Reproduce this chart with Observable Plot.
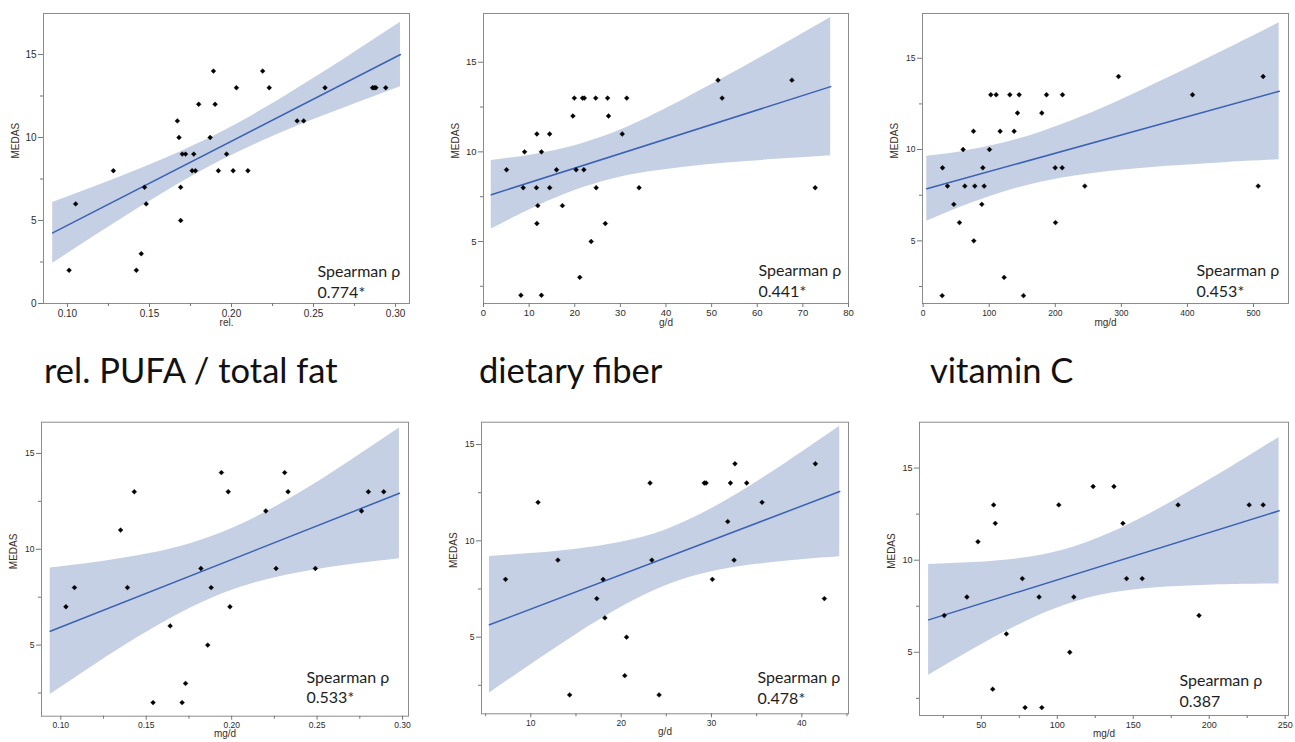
<!DOCTYPE html>
<html><head><meta charset="utf-8">
<script src="https://cdn.jsdelivr.net/npm/d3@7"></script>
<script src="https://cdn.jsdelivr.net/npm/@observablehq/plot@0.6"></script>
<style>
html,body{margin:0;padding:0;background:#fff}
body{width:1295px;height:742px;overflow:hidden;position:relative;font-family:"Liberation Sans",Arial,sans-serif}
.panel{position:absolute}
.panel svg{max-width:none !important;background:transparent !important}
.title{position:absolute;font-family:Lato,"Open Sans",sans-serif;font-size:34.5px;line-height:34.5px;color:#111;white-space:nowrap}
</style></head><body>
<div class="title" style="left:44px;top:353px">rel. PUFA / total fat</div>
<div class="title" style="left:479px;top:353px">dietary fiber</div>
<div class="title" style="left:930px;top:353px">vitamin C</div>
<script>
// ---------- data ----------
// Panel 1: rel. PUFA / total fat
const p1X = [0.101,0.105,0.128,0.142,0.145,0.147,0.148,0.167,0.168,0.169,0.169,0.170,0.172,0.176,0.177,0.178,0.180,0.187,0.189,0.190,0.192,0.197,0.201,0.203,0.210,0.219,0.223,0.240,0.244,0.257,0.286,0.287,0.288,0.294];
const p1Y = [2,6,8,2,3,7,6,11,10,7,5,9,9,8,9,8,12,10,14,12,8,9,8,13,8,14,13,11,11,13,13,13,13,13];
const p1FitX = [0.091, 0.303];
const p1FitY = [4.25, 15.0];
const p1BandX = [0.091,0.117,0.143,0.169,0.195,0.221,0.247,0.273,0.303];
const p1BandLo = [2.42,4.09,5.72,7.27,8.67,9.88,10.96,11.95,13.06];
const p1BandHi = [6.08,7.05,8.05,9.14,10.37,11.80,13.37,15.00,16.94];
const p1XTicks = [0.10,0.15,0.20,0.25,0.30];
const p1XMinor = [0.125,0.175,0.225,0.275];
const p1YTicks = [0,5,10,15];

// Panel 2: dietary fiber
const p2X = [5.05,8.2,8.7,9.0,11.6,11.7,11.7,11.9,12.7,12.7,14.5,14.5,16.0,17.3,19.6,19.9,20.3,21.1,21.7,22.0,22.1,23.6,24.6,24.7,26.7,27.2,27.4,30.4,31.4,34.1,51.4,52.3,67.6,72.7];
const p2Y = [9,2,8,10,8,11,6,7,10,2,11,8,9,7,12,13,9,3,13,9,13,5,13,8,6,13,12,11,13,8,14,13,14,8];
const p2FitX = [1.7, 76.1];
const p2FitY = [7.61, 13.64];
const p2BandX = [1.7,10,18,26,34,44,54,65,76.1];
const p2BandLo = [5.70,6.76,7.65,8.33,8.79,9.14,9.39,9.60,9.79];
const p2BandHi = [9.52,9.80,10.21,10.83,11.67,12.94,14.31,15.88,17.49];
const p2XTicks = [0,10,20,30,40,50,60,70,80];
const p2XMinor = [];

// Panel 3: vitamin C
const p3X = [28.8,29.3,36.8,46.4,55,60.5,63.1,76.2,76.7,78.2,88.8,90.3,92.3,100.4,102.4,110.5,116.5,122.6,131.2,137.7,142.8,145.3,151.9,179.6,186.7,199.8,200.3,210.4,210.9,244.7,295.7,407.7,507.1,514.6];
const p3Y = [2,9,8,7,6,10,8,11,5,8,7,9,8,10,13,13,11,3,13,11,12,13,2,12,13,9,6,9,13,8,14,13,8,14];
const p3FitX = [5.5, 538.9];
const p3FitY = [7.85, 13.19];
const p3BandX = [5.5,60,120,180,240,300,370,450,538.9];
const p3BandLo = [6.07,6.89,7.65,8.22,8.60,8.86,9.08,9.27,9.44];
const p3BandHi = [9.63,9.90,10.34,10.98,11.79,12.73,13.92,15.33,16.94];
const p3XTicks = [0,100,200,300,400,500];
const p3XMinor = [];

// Panel 4 (mg/d)
const p4X = [0.103,0.108,0.135,0.139,0.143,0.154,0.164,0.171,0.173,0.182,0.186,0.188,0.194,0.198,0.199,0.220,0.226,0.231,0.233,0.249,0.276,0.280,0.289];
const p4Y = [7,8,11,8,13,2,6,2,3,9,5,8,14,13,7,12,9,14,13,9,12,13,13];
const p4FitX = [0.0938, 0.2982];
const p4FitY = [5.72, 12.92];
const p4BandX = [0.0938,0.12,0.145,0.17,0.195,0.22,0.245,0.27,0.2982];
const p4BandLo = [2.42,3.98,5.39,6.66,7.69,8.40,8.87,9.21,9.51];
const p4BandHi = [9.02,9.31,9.66,10.15,10.89,11.94,13.22,14.65,16.33];
const p4XTicks = [0.10,0.15,0.20,0.25,0.30];
const p4XMinor = [0.125,0.175,0.225,0.275];

// Panel 5 (g/d)
const p5X = [7.2,10.8,13.0,14.3,17.3,18.0,18.2,20.4,20.6,23.2,23.4,24.2,29.2,29.4,30.1,31.8,32.1,32.5,32.6,33.9,35.6,41.5,42.5];
const p5Y = [8,12,9,2,7,8,6,3,5,13,9,2,13,13,8,11,13,9,14,13,12,14,7];
const p5FitX = [5.42, 44.2];
const p5FitY = [5.64, 12.56];
const p5BandX = [5.42,10,15,20,25,30,35,40,44.2];
const p5BandLo = [2.09,3.57,5.13,6.55,7.68,8.39,8.78,9.02,9.17];
const p5BandHi = [9.19,9.34,9.57,9.93,10.58,11.66,13.05,14.60,15.95];
const p5XTicks = [10,20,30,40];
const p5XMinor = [5,15,25,35,45];

// Panel 6 (mg/d)
const p6X = [25.6,40.5,47.8,57.5,58.1,59.2,66.5,77.0,78.8,88.0,89.8,101.0,108.2,110.9,123.6,137.3,143.2,145.6,155.9,179.5,193.3,226.3,235.5];
const p6Y = [7,8,11,3,13,12,6,9,2,8,2,13,5,8,14,14,12,9,9,13,7,13,13];
const p6FitX = [15.3, 246.0];
const p6FitY = [6.76, 12.68];
const p6BandX = [15.3,45,75,105,135,165,195,225,246];
const p6BandLo = [3.75,5.18,6.50,7.55,8.20,8.50,8.63,8.69,8.71];
const p6BandHi = [9.77,9.87,10.09,10.57,11.47,12.70,14.11,15.59,16.66];
const p6XTicks = [50,100,150,200,250];
const p6XMinor = [25,75,125,175,225];

const yTicks = [5,10,15];
const yMinor = [2.5,7.5,12.5];
const yLabel = "MEDAS";
const xLabels = ["rel.", "g/d", "mg/d", "mg/d", "g/d", "mg/d"];
const rhoValues = ["0.774*", "0.441*", "0.453*", "0.533*", "0.478*", "0.387"];

// ---------- drawing ----------
const rows = (xs, ys) => xs.map((x, i) => ({x, y: ys[i]}));
const bandRows = (xs, lo, hi) => xs.map((x, i) => ({x, lo: lo[i], hi: hi[i]}));

function panel(cfg) {
  const {xs, ys, fitX, fitY, bandX, bandLo, bandHi, xDomain, yDomain,
    xTicks, xMinor, xFormat, yT, xLabel, rho, left, top, width, height,
    mL, mR, mT, mB, tickFont, rhoDx, rhoDy, labDy} = cfg;
  const svg = Plot.plot({
    width, height, marginLeft: mL, marginRight: mR, marginTop: mT, marginBottom: mB,
    x: {domain: xDomain},
    y: {domain: yDomain},
    style: {fontFamily: "'Liberation Sans', Arial, sans-serif", background: "transparent", overflow: "visible"},
    marks: [
      Plot.areaY(bandRows(bandX, bandLo, bandHi), {x: "x", y1: "lo", y2: "hi", fill: "#c6d0e5", curve: "natural"}),
      Plot.line(rows(fitX, fitY), {x: "x", y: "y", stroke: "#3a62b4", strokeWidth: 1.5}),
      Plot.dot(rows(xs, ys), {x: "x", y: "y", symbol: "diamond2", r: 2.2, fill: "#000", stroke: "#000", strokeWidth: 0.4}),
      Plot.frame({stroke: "#8c8c8c", strokeWidth: 1}),
      Plot.axisX(xTicks, {tickFormat: xFormat, tickSize: 4, tickPadding: 2, fontSize: tickFont, fill: "#2b2b2b", stroke: "#777", label: null}),
      Plot.axisX(xMinor, {tickFormat: () => "", tickSize: 3, stroke: "#777", label: null}),
      Plot.axisY(yT, {tickSize: 5, tickPadding: 2, fontSize: tickFont, fill: "#2b2b2b", stroke: "#777", label: null}),
      Plot.axisY(yMinor, {tickFormat: () => "", tickSize: 3, stroke: "#777", label: null}),
      Plot.text([yLabel], {frameAnchor: "left", rotate: -90, dx: -28, fontSize: 10, fill: "#3a2e26"}),
      Plot.text([xLabel], {frameAnchor: "bottom", dy: labDy, fontSize: 10, fill: "#3a2e26"}),
      Plot.text([`Spearman ρ\n${rho}`], {frameAnchor: "bottom-right", textAnchor: "start", lineAnchor: "bottom",
        dx: rhoDx, dy: rhoDy, fontSize: 16, lineHeight: 1.28, fill: "#1e1e1e", fontFamily: "Lato, 'Open Sans', sans-serif"})
    ]
  });
  const div = document.createElement("div");
  div.className = "panel";
  div.style.left = left + "px";
  div.style.top = top + "px";
  div.appendChild(svg);
  document.body.appendChild(div);
}

const f2 = d3.format(".2f");
const f0 = d3.format("d");

panel({xs: p1X, ys: p1Y, fitX: p1FitX, fitY: p1FitY, bandX: p1BandX, bandLo: p1BandLo, bandHi: p1BandHi,
  xDomain: [0.0854, 0.3085], yDomain: [0, 17.47], xTicks: p1XTicks, xMinor: p1XMinor, xFormat: f2, yT: p1YTicks,
  xLabel: xLabels[0], rho: rhoValues[0], left: 0, top: 0, width: 421, height: 340,
  mL: 43, mR: 12, mT: 13, mB: 37, tickFont: 10, rhoDx: -92, rhoDy: -6, labDy: 22});

panel({xs: p2X, ys: p2Y, fitX: p2FitX, fitY: p2FitY, bandX: p2BandX, bandLo: p2BandLo, bandHi: p2BandHi,
  xDomain: [0, 80], yDomain: [1.54, 17.72], xTicks: p2XTicks, xMinor: p2XMinor, xFormat: f0, yT: yTicks,
  xLabel: xLabels[1], rho: rhoValues[1], left: 440, top: 0, width: 420, height: 340,
  mL: 43, mR: 12, mT: 13, mB: 37, tickFont: 9.5, rhoDx: -90, rhoDy: -7, labDy: 22});

panel({xs: p3X, ys: p3Y, fitX: p3FitX, fitY: p3FitY, bandX: p3BandX, bandLo: p3BandLo, bandHi: p3BandHi,
  xDomain: [-1, 553], yDomain: [1.57, 17.45], xTicks: p3XTicks, xMinor: p3XMinor, xFormat: f0, yT: yTicks,
  xLabel: xLabels[2], rho: rhoValues[2], left: 879, top: 0, width: 416, height: 340,
  mL: 43, mR: 7, mT: 13, mB: 37, tickFont: 8.5, rhoDx: -92, rhoDy: -7, labDy: 22});

panel({xs: p4X, ys: p4Y, fitX: p4FitX, fitY: p4FitY, bandX: p4BandX, bandLo: p4BandLo, bandHi: p4BandHi,
  xDomain: [0.0887, 0.3035], yDomain: [1.29, 16.63], xTicks: p4XTicks, xMinor: p4XMinor, xFormat: f2, yT: yTicks,
  xLabel: xLabels[3], rho: rhoValues[3], left: 0, top: 400, width: 420, height: 342,
  mL: 41, mR: 12, mT: 21.7, mB: 26.3, tickFont: 8.5, rhoDx: -102, rhoDy: -13, labDy: 21});

panel({xs: p5X, ys: p5Y, fitX: p5FitX, fitY: p5FitY, bandX: p5BandX, bandLo: p5BandLo, bandHi: p5BandHi,
  xDomain: [4.54, 45.17], yDomain: [1.02, 16.16], xTicks: p5XTicks, xMinor: p5XMinor, xFormat: f0, yT: yTicks,
  xLabel: xLabels[4], rho: rhoValues[4], left: 440, top: 400, width: 420, height: 342,
  mL: 41, mR: 12, mT: 21.7, mB: 28.7, tickFont: 8.5, rhoDx: -91, rhoDy: -10, labDy: 21});

panel({xs: p6X, ys: p6Y, fitX: p6FitX, fitY: p6FitY, bandX: p6BandX, bandLo: p6BandLo, bandHi: p6BandHi,
  xDomain: [9.3, 252.2], yDomain: [1.57, 17.49], xTicks: p6XTicks, xMinor: p6XMinor, xFormat: f0, yT: yTicks,
  xLabel: xLabels[5], rho: rhoValues[5], left: 878, top: 400, width: 417, height: 342,
  mL: 41, mR: 7, mT: 21.7, mB: 27, tickFont: 9, rhoDx: -109, rhoDy: -9, labDy: 21});
</script>
</body></html>
